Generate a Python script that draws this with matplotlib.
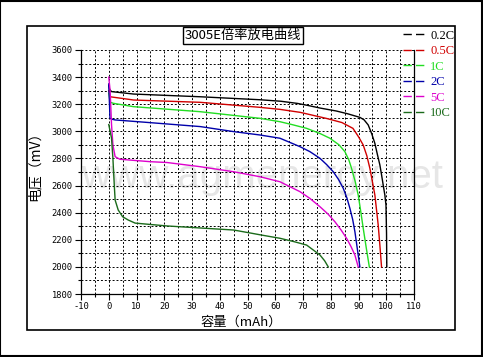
import matplotlib
matplotlib.use("Agg")
import matplotlib.pyplot as plt
from matplotlib.lines import Line2D
from matplotlib.patches import Rectangle
from matplotlib.ticker import MultipleLocator

plt.rcParams["axes.unicode_minus"] = False

# ---- data (capacity mAh, voltage mV) ----
labels = ["0.2C", "0.5C", "1C", "2C", "5C", "10C"]
colors = ["#000000", "#d00000", "#22dd22", "#0000aa", "#dd00cc", "#1a6a1a"]

cap_02 = [0, 0.3, 1, 9, 33, 54.5, 62, 68, 72, 76.1, 82, 86, 89, 90.5, 92, 93.5, 94.8, 95.9, 96.8, 97.7, 98.3, 98.9, 99.5, 99.9, 100.1, 100.2]
v_02 = [3340, 3310, 3293, 3275, 3255, 3233, 3222, 3206, 3190, 3172, 3150, 3130, 3112, 3103, 3085, 3047, 2980, 2911, 2830, 2752, 2680, 2604, 2530, 2457, 2250, 2000]

cap_05 = [0, 0.5, 9, 33, 54.5, 61.7, 69, 78.5, 84, 88, 90, 91.7, 93, 94.1, 95, 95.9, 96.5, 97.1, 97.7, 98.3]
v_05 = [3300, 3255, 3231, 3214, 3177, 3162, 3140, 3095, 3065, 3022, 2960, 2899, 2820, 2727, 2630, 2530, 2420, 2309, 2160, 2000]

cap_1 = [0, 0.5, 1.6, 8.9, 32.9, 54.5, 61.7, 66, 71.3, 76, 79.7, 83, 85.1, 86.5, 87.5, 88.8, 89.9, 90.8, 91.7, 92.8, 93.9]
v_1 = [3280, 3215, 3207, 3182, 3145, 3096, 3071, 3050, 3022, 2985, 2949, 2900, 2850, 2790, 2727, 2630, 2530, 2410, 2285, 2140, 2000]

cap_2 = [0, 0.45, 1, 2.3, 15, 33, 45, 54.5, 61.7, 68.9, 72.5, 76.1, 78.5, 80.9, 82.8, 84.5, 85.8, 86.9, 87.9, 88.7, 89.6, 90.5]
v_2 = [3350, 3096, 3090, 3084, 3064, 3035, 2998, 2973, 2949, 2887, 2850, 2801, 2755, 2702, 2645, 2580, 2510, 2432, 2350, 2260, 2130, 2000]

cap_5 = [0, 0.5, 1, 1.5, 2.3, 4, 15, 21, 33, 45, 54.5, 61.7, 68.9, 72.5, 76.1, 79, 81.5, 83.8, 85.7, 87.3, 88.7, 89.9]
v_5 = [3400, 3300, 3050, 2900, 2813, 2794, 2776, 2770, 2739, 2702, 2665, 2628, 2555, 2505, 2444, 2390, 2333, 2270, 2211, 2150, 2088, 2000]

cap_10 = [0, 1, 1.5, 2, 2.3, 3.4, 5, 7, 9.5, 21, 45, 51, 55, 61.7, 67, 71.3, 74, 76.1, 77.8, 79.1]
v_10 = [3050, 2950, 2800, 2600, 2493, 2420, 2370, 2346, 2323, 2302, 2272, 2250, 2235, 2211, 2185, 2161, 2120, 2088, 2045, 2000]

caps = [cap_02, cap_05, cap_1, cap_2, cap_5, cap_10]
volts = [v_02, v_05, v_1, v_2, v_5, v_10]

x_ticks = list(range(-10, 111, 10))
y_ticks = list(range(1800, 3601, 200))

title = "3005E倍率放电曲线"
xlabel = "容量（mAh）"
ylabel = "电压（mV）"
watermark = "www.agmenergy.net"

cjk = ["Noto Sans CJK SC", "DejaVu Sans"]

fig = plt.figure(figsize=(4.83, 3.57), dpi=100)
fig.patch.set_facecolor("white")

# outer and inner frames
fig.patches.append(Rectangle((0.001, 0.002), 0.997, 0.996, transform=fig.transFigure,
                             fill=False, edgecolor="black", lw=1.5, zorder=0))
fig.patches.append(Rectangle((27 / 483, 1 - 330 / 357), 428 / 483, 304 / 357,
                             transform=fig.transFigure, fill=False, edgecolor="black",
                             lw=1.2, zorder=0))

ax = fig.add_axes([81 / 483, 1 - 294 / 357, 333 / 483, 244 / 357])
ax.set_facecolor("none")

for c, v, col in zip(caps, volts, colors):
    ax.plot(c, v, color=col, lw=1.0, zorder=3)

ax.set_xlim(-10, 110)
ax.set_ylim(1800, 3600)
ax.set_xticks(x_ticks)
ax.set_yticks(y_ticks)
ax.xaxis.set_minor_locator(MultipleLocator(5))
ax.yaxis.set_minor_locator(MultipleLocator(100))
ax.grid(True, which="both", color="black", linestyle=(0, (2, 2)), lw=0.7, zorder=1)
ax.tick_params(which="major", direction="out", length=4, width=0.8, labelsize=6.3, pad=2)
ax.tick_params(which="minor", direction="out", length=2, width=0.8)
for lab in ax.get_xticklabels() + ax.get_yticklabels():
    lab.set_family("DejaVu Sans Mono")
ax.spines["top"].set_visible(False)
for s in ["left", "right", "bottom"]:
    ax.spines[s].set_linewidth(0.9)

ax.text(262 / 483, 1 - 177 / 357, watermark, transform=fig.transFigure, ha="center",
        va="center", fontsize=29, color="#e6e6e6", family="Liberation Sans", zorder=0)

fig.text(0.503, 1 - 35.5 / 357, title, ha="center", va="center", fontsize=9.5, family=cjk,
         bbox=dict(boxstyle="square,pad=0.12", facecolor="white", edgecolor="black", lw=1))
fig.text(0.5, 1 - 322 / 357, xlabel, ha="center", va="center", fontsize=9.5, family=cjk)
fig.text(0.072, 1 - 163 / 357, ylabel, ha="center", va="center", rotation=90, fontsize=10,
         family=cjk)

handles = [Line2D([], [], color=col, lw=1.0, linestyle=(0, (6, 3))) for col in colors]
leg = fig.legend(handles, labels, loc="upper left", bbox_to_anchor=(394 / 483, 1 - 21 / 357),
                 frameon=False, handlelength=1.9, handletextpad=0.3,
                 labelspacing=0.28, borderpad=0.2,
                 prop={"family": "Liberation Serif", "size": 9})
for t, col in zip(leg.get_texts(), colors):
    t.set_color(col)

fig.savefig("out.png", dpi=100)
